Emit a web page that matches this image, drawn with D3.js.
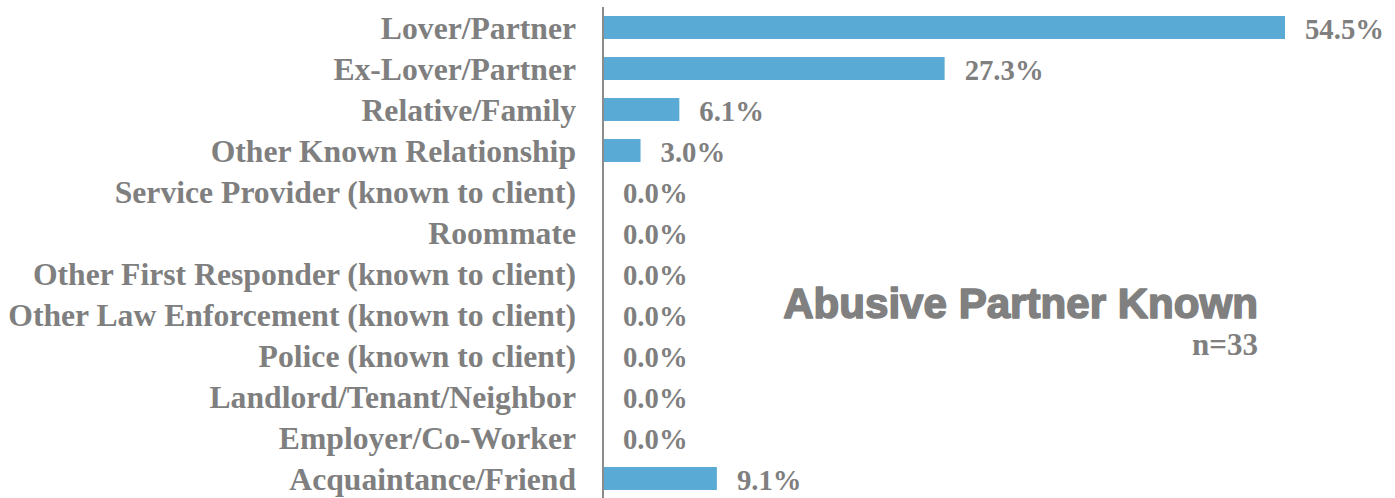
<!DOCTYPE html>
<html><head><meta charset="utf-8">
<script src="https://cdn.jsdelivr.net/npm/d3@7"></script>
<style>body{margin:0;background:#fff;overflow:hidden}</style>
</head><body>
<svg id="chart" width="1395" height="498"></svg>
<script>
const categories = ["Lover/Partner","Ex-Lover/Partner","Relative/Family","Other Known Relationship","Service Provider (known to client)","Roommate","Other First Responder (known to client)","Other Law Enforcement (known to client)","Police (known to client)","Landlord/Tenant/Neighbor","Employer/Co-Worker","Acquaintance/Friend"];
const values = [54.5,27.3,6.1,3.0,0.0,0.0,0.0,0.0,0.0,0.0,0.0,9.1];
const title = "Abusive Partner Known";
const subtitle = "n=33";

const svg = d3.select("#chart");
const x0 = 603;
const x = d3.scaleLinear().domain([0, 54.5]).range([x0, 1285]);
const y = d3.scaleBand().domain(categories).range([7, 499]).paddingInner(0.44).paddingOuter(0.22);
const grey = "#7f7f7f";
const serif = "'Liberation Serif', 'DejaVu Serif', serif";

svg.selectAll("rect.bar").data(values).join("rect")
  .attr("class","bar")
  .attr("x", x0)
  .attr("y", (d,i)=>y(categories[i]))
  .attr("width", d=>x(d)-x0)
  .attr("height", y.bandwidth())
  .attr("fill", "#5aaad6");

svg.append("line").attr("x1",x0).attr("x2",x0).attr("y1",7).attr("y2",498)
  .attr("stroke","#8c8c8c").attr("stroke-width",2);

const labels = svg.selectAll("text.cat").data(categories).join("text")
  .attr("class","cat")
  .attr("x", 576)
  .attr("y", d=>y(d)+y.bandwidth()/2)
  .attr("text-anchor","end")
  .attr("font-family", serif)
  .attr("font-weight","bold")
  .attr("font-size", 24)
  .attr("fill", grey)
  .text(d=>d);

let maxW = 0;
labels.each(function(){ maxW = Math.max(maxW, this.getComputedTextLength()); });
const fs = 24 * 568 / maxW;
labels.attr("font-size", fs).attr("dy", "0.36em");

const vals = svg.selectAll("text.val").data(values).join("text")
  .attr("class","val")
  .attr("x", d=>x(d)+20)
  .attr("y", (d,i)=>y(categories[i])+y.bandwidth()/2)
  .attr("font-family", serif)
  .attr("font-weight","bold")
  .attr("font-size", fs)
  .attr("fill", grey)
  .text(d=>d.toFixed(1)+"%");
const vw = vals.filter((d,i)=>i===0).node().getComputedTextLength();
const vfs = fs * 79 / vw;
vals.attr("font-size", vfs).attr("dy", "0.4em");

const t = svg.append("text").attr("x",1258).attr("y",318).attr("text-anchor","end")
  .attr("font-family","'Liberation Sans', Arial, sans-serif").attr("font-weight","bold")
  .attr("font-size",38).attr("fill","#808080")
  .attr("stroke","#808080").attr("stroke-width",1.6).attr("stroke-linejoin","round")
  .text(title);
const tw = t.node().getComputedTextLength();
t.attr("font-size", 38*475/tw);

const s = svg.append("text").attr("x",1258).attr("y",355).attr("text-anchor","end")
  .attr("font-family", serif).attr("font-weight","bold").attr("font-size",24).attr("fill",grey).text(subtitle);
const sw = s.node().getComputedTextLength();
s.attr("font-size", 24*66/sw);
</script>
</body></html>
